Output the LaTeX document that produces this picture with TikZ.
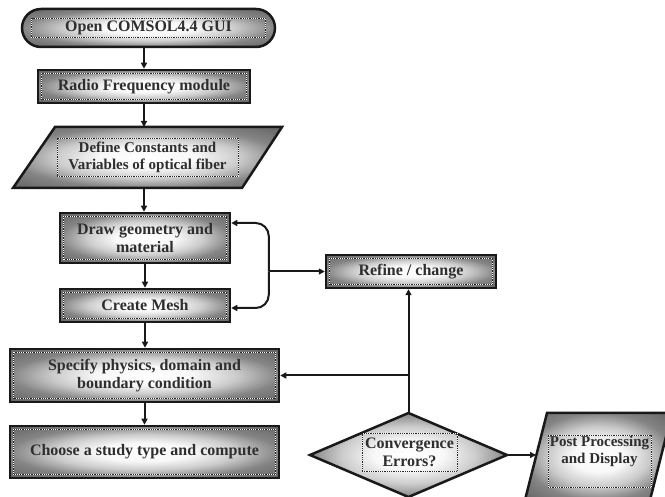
\documentclass[tikz,border=0pt]{standalone}
\usepackage{fontspec}
\setmainfont{Liberation Serif}
\usetikzlibrary{arrows.meta,shapes.geometric,calc}
\pgfdeclareradialshading{boxshade}{\pgfpoint{0bp}{0bp}}{color(0bp)=(white); color(9bp)=(black!3); color(17bp)=(black!20); color(25bp)=(black!48); color(36bp)=(black!62); color(50bp)=(black!62)}
\newlength{\insetlen}
\tikzset{
  inset/.code={\setlength{\insetlen}{#1}},
  shapefill/.style={draw=black!90, line width=2.5pt, shade, shading=boxshade, line join=miter},
  dotrule/.style={draw=white, line width=0.9pt, sharp corners, postaction={draw=black!85, dash pattern=on 0.9pt off 0.9pt}},
  lbl/.style={font=\bfseries\fontsize{16}{18}\selectfont, align=center, text=black!82},
  lblsmall/.style={font=\bfseries\fontsize{15}{17}\selectfont, align=center, text=black!82},
  box/.style={shapefill, lbl, inner sep=0pt, outer sep=1.25pt, inset=3.8pt,
    path picture={\path[dotrule] ([shift={(\insetlen,-\insetlen)}]path picture bounding box.north west) rectangle ([shift={(-\insetlen,\insetlen)}]path picture bounding box.south east);}},
  arr/.style={draw=black!90, line width=2pt, -{Triangle[length=6pt,width=6pt]}},
}
\begin{document}
\begin{tikzpicture}[x=1pt,y=1pt]
\useasboundingbox (0,0) rectangle (665,-497);
\clip (0,0) rectangle (665,-497);
% parallelogram outlines
\path[shapefill] (55,-127) -- (282,-127) -- (242,-188) -- (13,-188) -- cycle;
\path[shapefill] (547,-413) -- (672,-413) -- (650,-500) -- (525,-500) -- cycle;
% nodes
\node[box, rounded corners=19pt, inset=9.5pt, minimum width=253pt, minimum height=38pt] (pill) at (148.5,-28) {Open COMSOL4.4 GUI};
\node[box, minimum width=212pt, minimum height=33pt] (rf) at (144,-86.5) {Radio Frequency module};
\node[lblsmall, dotrule, minimum width=181pt, minimum height=38pt, inner sep=0pt] (def) at (147.5,-157) {Define Constants and\\Variables of optical fiber};
\coordinate (defT) at (144,-127);
\coordinate (defB) at (144,-188);
\node[box, minimum width=170pt, minimum height=50pt] (geo) at (145,-238) {Draw geometry and\\material};
\node[box, minimum width=170pt, minimum height=33pt] (mesh) at (145,-305.5) {Create Mesh};
\node[box, minimum width=269pt, minimum height=53pt] (spec) at (144.5,-375.5) {Specify physics, domain and\\boundary condition};
\node[box, minimum width=269pt, minimum height=52pt] (study) at (144.5,-452) {Choose a study type and compute};
\node[box, minimum width=170pt, minimum height=33pt] (refine) at (411,-271.5) {Refine / change};
\node[shapefill, diamond, minimum width=197pt, minimum height=84pt, inner sep=0pt, outer sep=0pt] (diam) at (408.5,-455) {};
\node[lbl, dotrule, minimum width=95pt, minimum height=38pt, inner sep=0pt] (conv) at (409.5,-452) {Convergence\\Errors?};
\node[lblsmall, dotrule, minimum width=103pt, minimum height=52pt, inner sep=0pt] (post) at (599.5,-461) {Post Processing\\and Display\\[6pt]};
\coordinate (postL) at (536,-455);
% connectors
\draw[arr] (pill.south -| rf.north) -- (rf.north);
\draw[arr] (rf.south) -- (defT);
\draw[arr] (defB) -- (defB |- geo.north);
\draw[arr] (geo.south) -- (mesh.north);
\draw[arr] (mesh.south) -- (mesh.south |- spec.north);
\draw[arr] (spec.south) -- (study.north);
\coordinate (j) at ($(refine.west)+(-56,0)$);
\draw[arr] (j) -- (refine.west);
\draw[arr, rounded corners=13pt] (j) |- ([yshift=15pt]geo.east);
\draw[arr, rounded corners=13pt] (j) |- ([yshift=-2.5pt]mesh.east);
\draw[arr] (diam.north) -- (diam.north |- refine.south);
\coordinate (k) at (diam.north |- spec.east);
\draw[arr] (k) -- (spec.east);
\draw[arr] (diam.east) -- (postL);
\end{tikzpicture}
\end{document}
